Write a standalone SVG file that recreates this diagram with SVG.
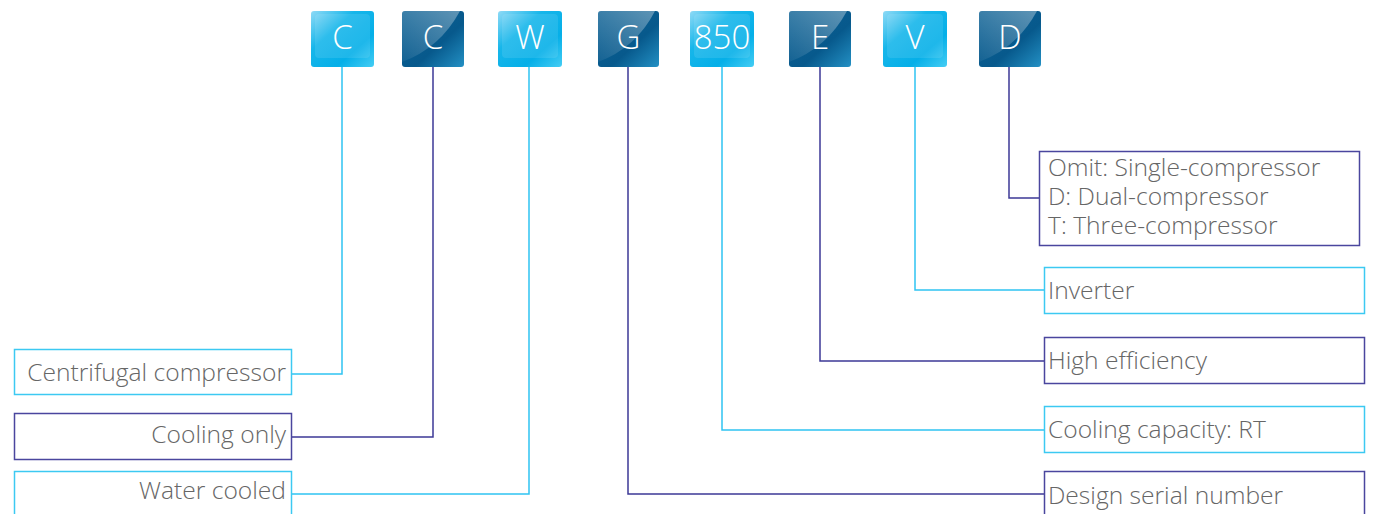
<svg xmlns="http://www.w3.org/2000/svg" width="1380" height="514" viewBox="0 0 1380 514">
<defs>
<linearGradient id="gl" x1="0" y1="0" x2="1" y2="1">
<stop offset="0" stop-color="#8fdaf6"/><stop offset="0.35" stop-color="#16b6ea"/><stop offset="0.7" stop-color="#05afe8"/><stop offset="1" stop-color="#45cdf4"/>
</linearGradient>
<linearGradient id="gd" x1="0" y1="0" x2="1" y2="1">
<stop offset="0" stop-color="#0a5f93"/><stop offset="0.6" stop-color="#07598c"/><stop offset="1" stop-color="#2390c4"/>
</linearGradient>
<linearGradient id="gg" x1="0" y1="1" x2="1" y2="0">
<stop offset="0" stop-color="#ffffff" stop-opacity="0.05"/><stop offset="1" stop-color="#ffffff" stop-opacity="0.35"/>
</linearGradient>
<style>
.lb{fill:url(#gl)}
.db{fill:url(#gd)}
.gloss{fill:url(#gg)}
.lt{font-family:"Open Sans","Liberation Sans",sans-serif;font-size:33px;fill:#ffffff;text-anchor:middle;font-weight:300}
.cl{fill:none;stroke:#2fc4f2;stroke-width:1.5}
.cd{fill:none;stroke:#3d3996;stroke-width:1.5}
.bl{fill:#ffffff;stroke:#3cc9f2;stroke-width:1.5}
.bd{fill:#ffffff;stroke:#4a469e;stroke-width:1.5}
.tx{font-family:"Open Sans","Liberation Sans",sans-serif;font-size:24.6px;fill:#666666;font-weight:300}
.r{text-anchor:end}
</style>
</defs>
<g id="connectors">
<polyline class="cl" points="342,67 342,374 292,374"/>
<polyline class="cd" points="433,67 433,437 292,437"/>
<polyline class="cl" points="529,67 529,494 292,494"/>
<polyline class="cd" points="628,67 628,494 1044,494"/>
<polyline class="cl" points="722,67 722,430 1044,430"/>
<polyline class="cd" points="820,67 820,361 1044,361"/>
<polyline class="cl" points="915,67 915,290 1044,290"/>
<polyline class="cd" points="1009,67 1009,198 1039,198"/>
</g>
<g id="code-C1"><rect class="lb" x="311" y="11" width="63" height="56" rx="3"/><rect x="315" y="14" width="55" height="44" rx="4" fill="#ffffff" opacity="0.1"/><text class="lt" x="342.5" y="49">C</text></g>
<g id="code-C2"><rect class="db" x="402" y="11" width="62" height="56" rx="3"/><path class="gloss" d="M402,14 Q402,11 405,11 H460 Q440,48 402,62 Z"/><text class="lt" x="433" y="49">C</text></g>
<g id="code-W"><rect class="lb" x="498" y="11" width="64" height="56" rx="3"/><rect x="502" y="14" width="56" height="44" rx="4" fill="#ffffff" opacity="0.1"/><text class="lt" x="530" y="49">W</text></g>
<g id="code-G"><rect class="db" x="598" y="11" width="61" height="56" rx="3"/><path class="gloss" d="M598,14 Q598,11 601,11 H655 Q636,48 598,62 Z"/><text class="lt" x="628.5" y="49">G</text></g>
<g id="code-850"><rect class="lb" x="690" y="11" width="64" height="56" rx="3"/><rect x="694" y="14" width="56" height="44" rx="4" fill="#ffffff" opacity="0.1"/><text class="lt" x="722" y="49">850</text></g>
<g id="code-E"><rect class="db" x="789" y="11" width="62" height="56" rx="3"/><path class="gloss" d="M789,14 Q789,11 792,11 H847 Q827,48 789,62 Z"/><text class="lt" x="820" y="49">E</text></g>
<g id="code-V"><rect class="lb" x="883" y="11" width="64" height="56" rx="3"/><rect x="887" y="14" width="56" height="44" rx="4" fill="#ffffff" opacity="0.1"/><text class="lt" x="915" y="49">V</text></g>
<g id="code-D"><rect class="db" x="979" y="11" width="62" height="56" rx="3"/><path class="gloss" d="M979,14 Q979,11 982,11 H1037 Q1017,48 979,62 Z"/><text class="lt" x="1010" y="49">D</text></g>
<g id="lbl-centrifugal"><rect class="bl" x="14.5" y="349.5" width="277" height="45"/><text class="tx r" x="286" y="381">Centrifugal compressor</text></g>
<g id="lbl-cooling-only"><rect class="bd" x="14.5" y="413.5" width="277" height="46"/><text class="tx r" x="286" y="443">Cooling only</text></g>
<g id="lbl-water"><rect class="bl" x="14.5" y="471.5" width="277" height="50"/><text class="tx r" x="286" y="499">Water cooled</text></g>
<g id="lbl-compressors"><rect class="bd" x="1039.5" y="151.5" width="320" height="94"/><text class="tx" x="1048" y="176">Omit: Single-compressor</text><text class="tx" x="1048" y="205">D: Dual-compressor</text><text class="tx" x="1048" y="234">T: Three-compressor</text></g>
<g id="lbl-inverter"><rect class="bl" x="1044.5" y="267.5" width="320" height="46"/><text class="tx" x="1048" y="299">Inverter</text></g>
<g id="lbl-high-eff"><rect class="bd" x="1044.5" y="337.5" width="320" height="46"/><text class="tx" x="1048" y="369">High efficiency</text></g>
<g id="lbl-capacity"><rect class="bl" x="1044.5" y="406.5" width="320" height="46"/><text class="tx" x="1048" y="438">Cooling capacity: RT</text></g>
<g id="lbl-serial"><rect class="bd" x="1044.5" y="471.5" width="320" height="50"/><text class="tx" x="1048" y="504">Design serial number</text></g>
</svg>
